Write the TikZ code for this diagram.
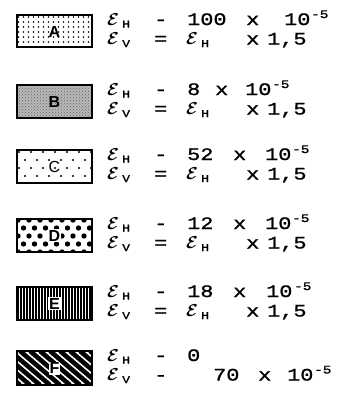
\documentclass[tikz,border=0pt]{standalone}
\usepackage{amsmath}
\usepackage{fontspec}
\usetikzlibrary{patterns}
\newfontfamily\tw[FakeStretch=1.25,FakeBold=1.1]{Liberation Mono}
\newfontfamily\lett{Liberation Sans}
\newcommand\ee{\ensuremath{\boldsymbol{\mathcal{E}}}}
\newcommand\tk[2]{\rlap{\hspace*{#1}#2}}
\newcommand\sbs[1]{\raisebox{-2.5pt}{\fontsize{10.5}{11}\selectfont #1}}
\newcommand\sps[1]{\raisebox{7pt}{\fontsize{11.5}{12}\selectfont #1}}
\newcommand\epsx[1]{\tk{#1}{\fontsize{18}{18}\selectfont\ee}}
\tikzset{
  txt/.style={inner sep=0pt, anchor=base west, font=\tw\fontsize{17.5}{18}\selectfont},
  frame/.style={draw=black, line width=2.2pt},
  lbl/.style={inner sep=0pt, font=\lett\bfseries\fontsize{16}{16}\selectfont},
}
\begin{document}
\begin{tikzpicture}[x=1pt,y=-1pt]
\useasboundingbox (0,0) rectangle (339,405);
% ---------- A ----------
\def\T{15}
\begin{scope}
\clip (17,\T) rectangle (92,\T+32);
\foreach \i in {0,...,15}{\foreach \j in {0,...,6}{
  \fill (18.5+\i*5,\T+2+\j*5) circle (0.8);}}
\end{scope}
\node[lbl] (lA) at (54.5,\T+16.5) {A};
\draw[frame] (17,\T) rectangle (92,\T+32);
\node[txt] (a1) at (0,\T+10) {\epsx{107pt}\tk{122pt}{\sbs{H}}\tk{154pt}{-}\tk{187pt}{100}\tk{246pt}{x}\tk{284pt}{10}\tk{311pt}{\sps{-5}}\hspace*{338pt}};
\node[txt] (a2) at (0,\T+29.5) {\epsx{107pt}\tk{122pt}{\sbs{V}}\tk{154pt}{=}\epsx{186pt}\tk{201pt}{\sbs{H}}\tk{246pt}{x}\tk{267pt}{1,5}\hspace*{338pt}};
% ---------- B ----------
\def\T{85}
\fill[black!28] (17,\T) rectangle (92,\T+33);
\fill[pattern=crosshatch dots, pattern color=black!60] (17,\T) rectangle (92,\T+33);
\node[lbl] (lB) at (54.5,\T+17) {B};
\draw[frame] (17,\T) rectangle (92,\T+33);
\node[txt] (b1) at (0,\T+10) {\epsx{107pt}\tk{122pt}{\sbs{H}}\tk{154pt}{-}\tk{187pt}{8}\tk{215pt}{x}\tk{245pt}{10}\tk{272pt}{\sps{-5}}\hspace*{338pt}};
\node[txt] (b2) at (0,\T+29.5) {\epsx{107pt}\tk{122pt}{\sbs{V}}\tk{154pt}{=}\epsx{186pt}\tk{201pt}{\sbs{H}}\tk{246pt}{x}\tk{267pt}{1,5}\hspace*{338pt}};
% ---------- C ----------
\def\T{150}
\begin{scope}
\clip (17,\T) rectangle (92,\T+33);
\foreach \j in {0,...,4}{\foreach \i in {0,...,7}{
  \pgfmathsetmacro\xx{19+\i*12+mod(\j,2)*6}
  \fill (\xx,\T+2+\j*8) circle (1.2);}}
\end{scope}
\node[lbl,font=\lett\fontsize{16}{16}\selectfont] (lC) at (54.5,\T+16.5) {C};
\draw[frame] (17,\T) rectangle (92,\T+33);
\node[txt] (c1) at (0,\T+10) {\epsx{107pt}\tk{122pt}{\sbs{H}}\tk{154pt}{-}\tk{187pt}{52}\tk{233pt}{x}\tk{265pt}{10}\tk{292pt}{\sps{-5}}\hspace*{338pt}};
\node[txt] (c2) at (0,\T+29.5) {\epsx{107pt}\tk{122pt}{\sbs{V}}\tk{154pt}{=}\epsx{186pt}\tk{201pt}{\sbs{H}}\tk{246pt}{x}\tk{267pt}{1,5}\hspace*{338pt}};
% ---------- D ----------
\def\T{219}
\begin{scope}
\clip (17,\T) rectangle (92,\T+33);
\foreach \j in {0,...,4}{\foreach \i in {0,...,7}{
  \pgfmathsetmacro\xx{18+\i*11+mod(\j,2)*5.5}
  \fill (\xx,\T+1+\j*8) circle (2.7);}}
\end{scope}
\node[lbl,fill=white,inner sep=1pt] (lD) at (54.5,\T+16.5) {D};
\draw[frame] (17,\T) rectangle (92,\T+33);
\node[txt] (d1) at (0,\T+10) {\epsx{107pt}\tk{122pt}{\sbs{H}}\tk{154pt}{-}\tk{187pt}{12}\tk{233pt}{x}\tk{265pt}{10}\tk{292pt}{\sps{-5}}\hspace*{338pt}};
\node[txt] (d2) at (0,\T+29.5) {\epsx{107pt}\tk{122pt}{\sbs{V}}\tk{154pt}{=}\epsx{186pt}\tk{201pt}{\sbs{H}}\tk{246pt}{x}\tk{267pt}{1,5}\hspace*{338pt}};
% ---------- E ----------
\def\T{287}
\fill[black] (17,\T) rectangle (92,\T+33);
\foreach \i in {0,...,24}{
  \draw[white, line width=0.9pt] (19+\i*3,\T) -- (19+\i*3,\T+33);}
\node[lbl,fill=white,inner sep=1pt] (lE) at (54.5,\T+16.5) {E};
\draw[frame] (17,\T) rectangle (92,\T+33);
\node[txt] (e1) at (0,\T+10) {\epsx{107pt}\tk{122pt}{\sbs{H}}\tk{154pt}{-}\tk{187pt}{18}\tk{233pt}{x}\tk{266pt}{10}\tk{294pt}{\sps{-5}}\hspace*{338pt}};
\node[txt] (e2) at (0,\T+29.5) {\epsx{107pt}\tk{122pt}{\sbs{V}}\tk{154pt}{=}\epsx{186pt}\tk{201pt}{\sbs{H}}\tk{246pt}{x}\tk{267pt}{1,5}\hspace*{338pt}};
% ---------- F ----------
\def\T{351}
\begin{scope}
\clip (17,\T) rectangle (92,\T+34);
\foreach \i in {-5,...,10}{
  \draw[line width=4.6pt] (\i*10,\T) -- (\i*10+40,\T+34);}
\end{scope}
\node[lbl,fill=white,inner sep=1pt] (lF) at (54.5,\T+17) {F};
\draw[frame] (17,\T) rectangle (92,\T+34);
\node[txt] (f1) at (0,\T+10) {\epsx{107pt}\tk{122pt}{\sbs{H}}\tk{154pt}{-}\tk{187pt}{0}\hspace*{338pt}};
\node[txt] (f2) at (0,\T+29.5) {\epsx{107pt}\tk{122pt}{\sbs{V}}\tk{154pt}{-}\tk{213pt}{70}\tk{258pt}{x}\tk{287pt}{10}\tk{314pt}{\sps{-5}}\hspace*{338pt}};
\end{tikzpicture}
\end{document}
